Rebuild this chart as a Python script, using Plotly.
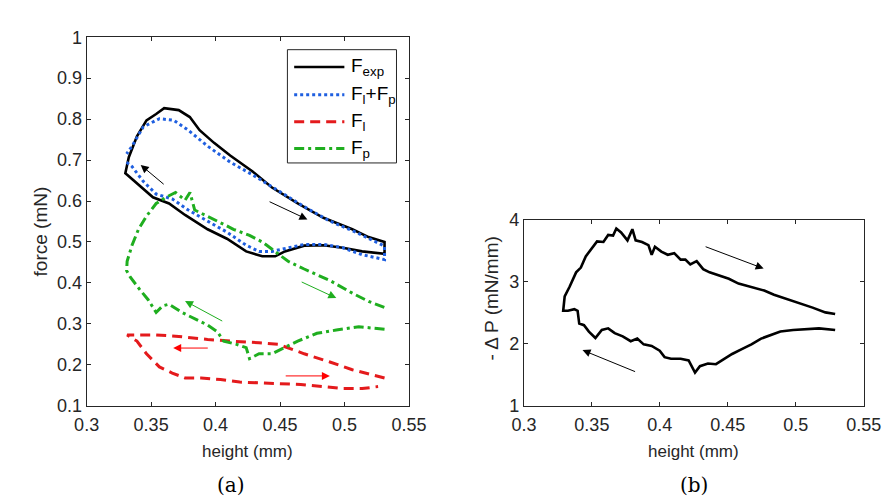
import plotly.graph_objects as go

W, H = 893, 499

# ---------------- data (a) ----------------
exp_x = [0.3314, 0.3414, 0.3514, 0.3639, 0.3763, 0.3938, 0.4088, 0.4237, 0.4362, 0.4462, 0.4537, 0.4687, 0.4836, 0.4986, 0.5136, 0.531,
         0.531, 0.5186, 0.506, 0.4836, 0.4637, 0.4437, 0.4287, 0.4113, 0.3988, 0.3876, 0.380, 0.3714, 0.3601, 0.3539, 0.3464, 0.339, 0.3327, 0.330, 0.3314]
exp_y = [0.664, 0.637, 0.609, 0.594, 0.566, 0.531, 0.508, 0.477, 0.465, 0.465, 0.477, 0.491, 0.492, 0.486, 0.477, 0.471,
         0.500, 0.512, 0.531, 0.559, 0.594, 0.633, 0.672, 0.711, 0.742, 0.773, 0.805, 0.822, 0.8266, 0.8125, 0.797, 0.758, 0.707, 0.668, 0.664]

sum_x = [0.331, 0.3352, 0.3439, 0.3539, 0.3664, 0.3788, 0.3938, 0.4088, 0.4237, 0.4337, 0.4437, 0.4537, 0.4687, 0.4836, 0.4986, 0.5136, 0.531,
         0.531, 0.5086, 0.4886, 0.4687, 0.4487, 0.4287, 0.4113, 0.3938, 0.3788, 0.3676, 0.3564, 0.3439, 0.3352, 0.331]
sum_y = [0.695, 0.684, 0.648, 0.617, 0.605, 0.578, 0.551, 0.524, 0.492, 0.477, 0.477, 0.484, 0.494, 0.494, 0.486, 0.469, 0.457,
         0.490, 0.524, 0.551, 0.586, 0.625, 0.664, 0.695, 0.734, 0.773, 0.797, 0.801, 0.781, 0.734, 0.715]

fl_x = [0.531, 0.526, 0.506, 0.4886, 0.4687, 0.4487, 0.4337, 0.4113, 0.3938, 0.3689, 0.3539, 0.3314,
        0.339, 0.3464, 0.3564, 0.3664, 0.3763, 0.3888, 0.4038, 0.4187, 0.4337, 0.4487, 0.466, 0.4836, 0.4986, 0.5136, 0.526]
fl_y = [0.168, 0.172, 0.188, 0.207, 0.227, 0.250, 0.254, 0.258, 0.262, 0.270, 0.273, 0.273,
        0.258, 0.227, 0.195, 0.180, 0.168, 0.168, 0.164, 0.158, 0.156, 0.155, 0.152, 0.147, 0.142, 0.142, 0.147]

fp_x = [0.531, 0.511, 0.4936, 0.4786, 0.4637, 0.4537, 0.4437, 0.4337, 0.4263, 0.4237, 0.4162, 0.4063, 0.4013, 0.3938, 0.3838, 0.3739,
        0.3639, 0.3589, 0.3539, 0.3477, 0.3414, 0.3339, 0.331, 0.3314, 0.3352, 0.3402, 0.3464, 0.3539, 0.3614, 0.3689, 0.3763, 0.3801,
        0.3838, 0.3938, 0.4038, 0.4138, 0.4263, 0.4362, 0.4462, 0.4562, 0.4687, 0.4886, 0.506, 0.5186, 0.531]
fp_y = [0.287, 0.293, 0.285, 0.277, 0.258, 0.242, 0.227, 0.227, 0.215, 0.242, 0.250, 0.258, 0.281, 0.297, 0.313, 0.328,
        0.348, 0.344, 0.328, 0.359, 0.383, 0.414, 0.430, 0.453, 0.492, 0.531, 0.563, 0.594, 0.609, 0.621, 0.602, 0.621,
        0.578, 0.563, 0.547, 0.531, 0.516, 0.500, 0.477, 0.453, 0.434, 0.406, 0.375, 0.355, 0.340]

# arrows (a): tail x, tail y, head x, head y, colour
arrows_a = [
    (0.3609, 0.638, 0.3419, 0.688, "black"),
    (0.4407, 0.600, 0.4712, 0.555, "black"),
    (0.4656, 0.404, 0.4936, 0.363, "#1fae1f"),
    (0.4063, 0.305, 0.3763, 0.356, "#1fae1f"),
    (0.3951, 0.241, 0.3671, 0.241, "red"),
    (0.4532, 0.173, 0.4886, 0.173, "red"),
]

# ---------------- data (b) ----------------
dp_x = [0.5290, 0.5218, 0.5124, 0.5029, 0.4934, 0.4840, 0.4768, 0.4674, 0.4579, 0.4508, 0.4437, 0.4366, 0.4319, 0.4271, 0.4224,
        0.4188, 0.4153, 0.4106, 0.4058, 0.4011, 0.3964, 0.394, 0.3916, 0.3869, 0.3822, 0.3798, 0.3762, 0.3715, 0.368, 0.3656,
        0.362, 0.3585, 0.3538, 0.3502, 0.3455, 0.3419, 0.3384, 0.3336, 0.330, 0.3289,
        0.3324, 0.3371, 0.3395, 0.3407, 0.3442, 0.3478, 0.3526, 0.3573, 0.362, 0.3668, 0.3727, 0.3786, 0.3834, 0.3881, 0.3940,
        0.3999, 0.4035, 0.4082, 0.4153, 0.4212, 0.4236, 0.4259, 0.4295, 0.4354, 0.4413, 0.4472, 0.4532, 0.4603, 0.4674, 0.4745,
        0.4816, 0.4887, 0.4981, 0.5076, 0.5171, 0.5290]
dp_y = [2.480, 2.505, 2.582, 2.650, 2.712, 2.789, 2.856, 2.918, 2.969, 3.046, 3.098, 3.150, 3.201, 3.330, 3.278,
        3.355, 3.355, 3.459, 3.433, 3.485, 3.562, 3.433, 3.588, 3.639, 3.665, 3.845, 3.665, 3.794, 3.856, 3.742,
        3.753, 3.639, 3.649, 3.536, 3.407, 3.227, 3.150, 2.918, 2.763, 2.531,
        2.531, 2.557, 2.531, 2.325, 2.299, 2.196, 2.093, 2.222, 2.248, 2.171, 2.119, 2.041, 2.083, 1.990, 1.964,
        1.887, 1.784, 1.758, 1.758, 1.732, 1.629, 1.536, 1.639, 1.681, 1.670, 1.758, 1.835, 1.912, 1.990, 2.083,
        2.134, 2.196, 2.222, 2.237, 2.248, 2.222]

arrows_b = [
    (0.4326, 3.572, 0.4764, 3.211, "black"),
    (0.3829, 1.541, 0.3431, 1.897, "black"),
]

x_ticks = [0.3, 0.35, 0.4, 0.45, 0.5, 0.55]
x_tick_text = ["0.3", "0.35", "0.4", "0.45", "0.5", "0.55"]
ya_ticks = [0.1, 0.2, 0.3, 0.4, 0.5, 0.6, 0.7, 0.8, 0.9, 1.0]
ya_tick_text = ["0.1", "0.2", "0.3", "0.4", "0.5", "0.6", "0.7", "0.8", "0.9", "1"]
yb_ticks = [1, 2, 3, 4]
yb_tick_text = ["1", "2", "3", "4"]

legend_names = ["F<sub>exp</sub>", "F<sub>l</sub>+F<sub>p</sub>", "F<sub>l</sub>", "F<sub>p</sub>"]

# ---------------- styles ----------------
C_EXP, C_SUM, C_FL, C_FP = "black", "#1f5fe0", "#e41a1c", "#1fae1f"
styles = [
    dict(color=C_EXP, width=2.6, dash="solid"),
    dict(color=C_SUM, width=3, dash="3px,3px"),
    dict(color=C_FL, width=3, dash="10px,6px"),
    dict(color=C_FP, width=3, dash="10px,4px,3px,4px"),
]
AX = "#262626"
FONT = "Liberation Sans"


def px(xp):
    return xp / W


def py(yp):
    return 1 - yp / H


fig = go.Figure()
series_a = [(exp_x, exp_y), (sum_x, sum_y), (fl_x, fl_y), (fp_x, fp_y)]
for (xs, ys), st, nm in zip(series_a, styles, legend_names):
    fig.add_trace(go.Scatter(x=xs, y=ys, mode="lines", line=st, name=nm,
                             showlegend=False, xaxis="x", yaxis="y"))
fig.add_trace(go.Scatter(x=dp_x, y=dp_y, mode="lines", line=dict(color="black", width=2.6),
                         showlegend=False, xaxis="x2", yaxis="y2"))

axis_common = dict(showline=True, linecolor=AX, linewidth=1, mirror="ticks", ticks="inside",
                   ticklen=4, tickcolor=AX, showgrid=False, zeroline=False,
                   tickfont=dict(family=FONT, size=18, color=AX))

fig.update_layout(
    width=W, height=H, margin=dict(l=0, r=0, t=0, b=0),
    paper_bgcolor="white", plot_bgcolor="white",
    xaxis=dict(domain=[px(68), px(402)], range=[0.3, 0.55], tickvals=x_ticks, ticktext=x_tick_text,
               anchor="y", ticklabelstandoff=3, **axis_common),
    yaxis=dict(domain=[py(404), py(20)], range=[0.1, 1.0], tickvals=ya_ticks, ticktext=ya_tick_text,
               anchor="x", **axis_common),
    xaxis2=dict(domain=[px(521), px(873)], range=[0.3, 0.55], tickvals=x_ticks, ticktext=x_tick_text,
                anchor="y2", ticklabelstandoff=3, **axis_common),
    yaxis2=dict(domain=[py(404), py(210)], range=[1, 4], tickvals=yb_ticks, ticktext=yb_tick_text,
                anchor="x2", **axis_common),
)

annotations = []
for tx, ty, hx, hy, c in arrows_a:
    annotations.append(dict(x=hx, y=hy, ax=tx, ay=ty, xref="x", yref="y", axref="x", ayref="y",
                            showarrow=True, arrowhead=2, arrowsize=1.6, arrowwidth=1, arrowcolor=c, text=""))
for tx, ty, hx, hy, c in arrows_b:
    annotations.append(dict(x=hx, y=hy, ax=tx, ay=ty, xref="x2", yref="y2", axref="x2", ayref="y2",
                            showarrow=True, arrowhead=2, arrowsize=1.6, arrowwidth=1, arrowcolor=c, text=""))

# axis titles
title_font = dict(family=FONT, size=17, color=AX)
vtitle_font = dict(family=FONT, size=19, color=AX)
annotations += [
    dict(text="force (mN)", x=px(20), y=py(222), xref="paper", yref="paper", textangle=-90,
         showarrow=False, font=vtitle_font, xanchor="center", yanchor="middle"),
    dict(text="height (mm)", x=px(235), y=py(452), xref="paper", yref="paper",
         showarrow=False, font=title_font, xanchor="center", yanchor="middle"),
    dict(text="height (mm)", x=px(697), y=py(452), xref="paper", yref="paper",
         showarrow=False, font=title_font, xanchor="center", yanchor="middle"),
    dict(text="- \u0394 P (mN/mm)", x=px(487), y=py(292), xref="paper", yref="paper", textangle=-90,
         showarrow=False, font=vtitle_font, xanchor="center", yanchor="middle"),
    dict(text="(a)", x=px(218), y=py(486), xref="paper", yref="paper",
         showarrow=False, font=dict(family="DejaVu Serif", size=20, color="black"), xanchor="center", yanchor="middle"),
    dict(text="(b)", x=px(697), y=py(486), xref="paper", yref="paper",
         showarrow=False, font=dict(family="DejaVu Serif", size=20, color="black"), xanchor="center", yanchor="middle"),
]

# legend (drawn as box + samples + text)
shapes = [dict(type="rect", xref="paper", yref="paper", x0=px(276), x1=px(389), y0=py(151), y1=py(33),
               line=dict(color=AX, width=1), fillcolor="white", layer="above")]
rows = [51, 80, 108, 136]
for r, st, nm in zip(rows, styles, legend_names):
    shapes.append(dict(type="line", xref="paper", yref="paper", x0=px(283), x1=px(335), y0=py(r), y1=py(r),
                       line=st, layer="above"))
    annotations.append(dict(text=nm, x=px(340), y=py(r), xref="paper", yref="paper", showarrow=False,
                            xanchor="left", yanchor="middle", font=dict(family=FONT, size=19, color="black")))

fig.update_layout(annotations=annotations, shapes=shapes)
fig.write_html("out.html")
